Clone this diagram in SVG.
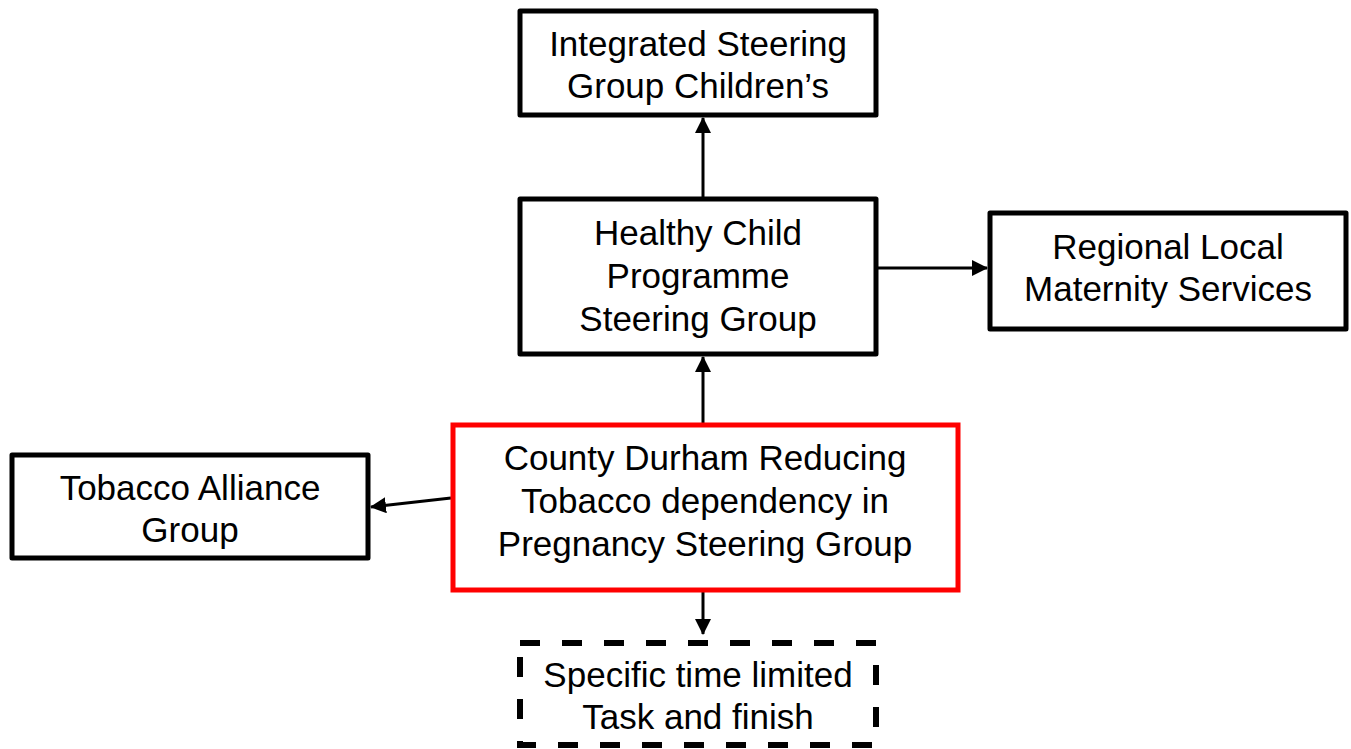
<svg xmlns="http://www.w3.org/2000/svg" width="1351" height="749" viewBox="0 0 1351 749">
<style>
.box{fill:#fff;stroke:#000;stroke-width:5;stroke-linejoin:round}
.red{fill:#fff;stroke:#ff0000;stroke-width:5}
.dash{fill:#fff;stroke:#000;stroke-width:6;stroke-dasharray:20 22}
.t{font-family:"Liberation Sans",Arial,sans-serif;font-size:35px;fill:#000;text-anchor:middle}
.c{stroke:#000;stroke-width:3;fill:none}
</style>
<defs>
<marker id="ah" markerUnits="userSpaceOnUse" markerWidth="16" markerHeight="16" viewBox="0 0 16 16" refX="15" refY="8" orient="auto">
<path d="M0,0 L16,8 L0,16 Z" fill="#000"/>
</marker>
</defs>
<rect width="1351" height="749" fill="#fff"/>
<g id="connectors">
<line class="c" x1="703" y1="197" x2="703" y2="118" marker-end="url(#ah)"/>
<line class="c" x1="703" y1="423" x2="703" y2="357" marker-end="url(#ah)"/>
<line class="c" x1="878" y1="268" x2="987" y2="268" marker-end="url(#ah)"/>
<line class="c" x1="451" y1="498" x2="371" y2="507" marker-end="url(#ah)"/>
<line class="c" x1="703" y1="592" x2="703" y2="634" marker-end="url(#ah)"/>
</g>
<g id="integrated">
<rect class="box" x="520" y="11" width="356" height="104"/>
<text class="t" x="698" y="56">Integrated Steering</text>
<text class="t" x="698" y="98">Group Children’s</text>
</g>
<g id="healthy">
<rect class="box" x="520" y="199" width="356" height="155"/>
<text class="t" x="698" y="245">Healthy Child</text>
<text class="t" x="698" y="288">Programme</text>
<text class="t" x="698" y="331">Steering Group</text>
</g>
<g id="regional">
<rect class="box" x="990" y="213" width="356" height="116"/>
<text class="t" x="1168" y="259">Regional Local</text>
<text class="t" x="1168" y="301">Maternity Services</text>
</g>
<g id="tobacco">
<rect class="box" x="12" y="455" width="356" height="103"/>
<text class="t" x="190" y="500">Tobacco Alliance</text>
<text class="t" x="190" y="542">Group</text>
</g>
<g id="county">
<rect class="red" x="453" y="425" width="505" height="165"/>
<text class="t" x="705" y="470">County Durham Reducing</text>
<text class="t" x="705" y="513">Tobacco dependency in</text>
<text class="t" x="705" y="556">Pregnancy Steering Group</text>
</g>
<g id="task">
<rect class="dash" x="520" y="643" width="356" height="102"/>
<text class="t" x="698" y="687">Specific time limited</text>
<text class="t" x="698" y="729">Task and finish</text>
</g>
</svg>
